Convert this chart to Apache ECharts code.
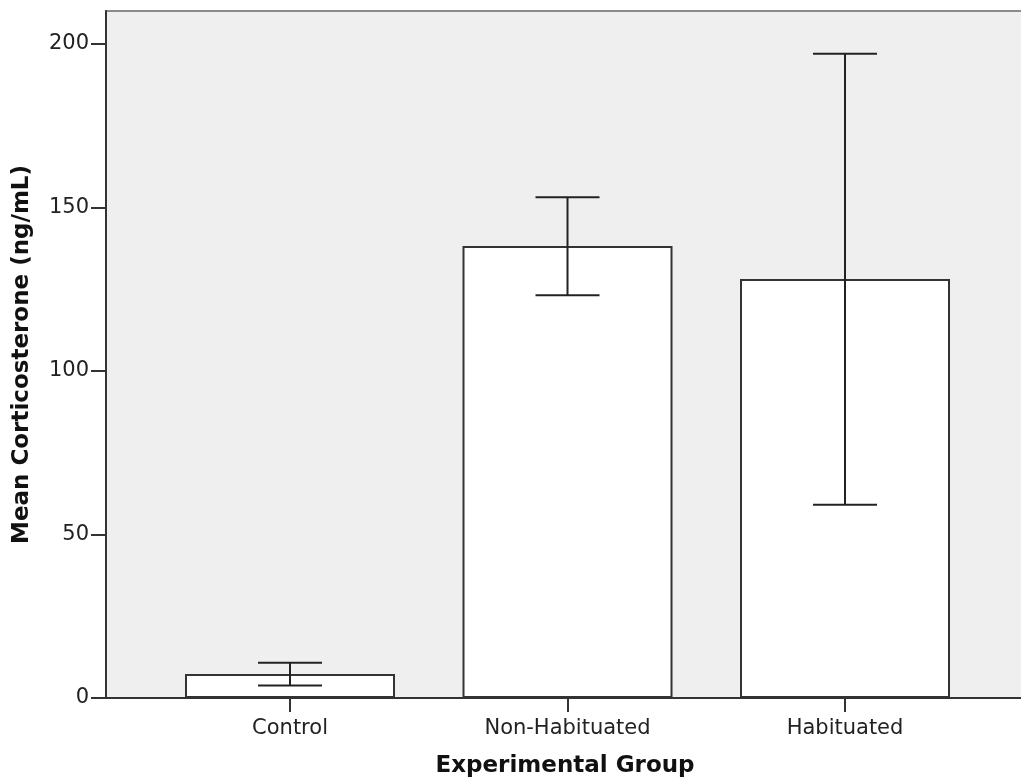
<!DOCTYPE html>
<html>
<head>
<meta charset="utf-8">
<script src="https://cdn.jsdelivr.net/npm/echarts@6/dist/echarts.min.js"></script>
<style>
html,body{margin:0;padding:0;background:#fff;}
#chart{width:1021px;height:783px;}
</style>
</head>
<body>
<div id="chart"></div>
<script>
var categories = ['Control', 'Non-Habituated', 'Habituated'];
var means = [7.3, 138.2, 128.1];
var upperCI = [10.8, 153.1, 196.9];
var lowerCI = [3.8, 123.1, 59.1];
var yTicks = [0, 50, 100, 150, 200];

var positions = categories.map(function (c, i) { return i + 1; });
var barData = positions.map(function (p, i) { return [p, means[i]]; });
var errData = positions.map(function (p, i) { return [p, lowerCI[i], upperCI[i]]; });

var chart = echarts.init(document.getElementById('chart'), null, {renderer: 'canvas'});
var fontFam = '"DejaVu Sans", sans-serif';
var axisColor = '#333';

chart.setOption({
  animation: false,
  backgroundColor: '#ffffff',
  grid: {
    left: 106, right: -3, top: 11, bottom: 85,
    outerBoundsMode: 'none',
    containLabel: false,
    show: true,
    backgroundColor: '#efefef',
    borderColor: '#8a8a8a',
    borderWidth: 2
  },
  xAxis: {
    type: 'value',
    min: 0.3369,
    max: 3.645,
    splitLine: {show: false},
    axisLine: {show: true, onZero: false, lineStyle: {color: axisColor, width: 2}},
    axisTick: {show: true, length: 14, customValues: positions, lineStyle: {color: axisColor, width: 2}},
    axisLabel: {
      customValues: positions,
      margin: 20,
      fontFamily: fontFam,
      fontSize: 21,
      color: '#222',
      formatter: function (v) { return categories[Math.round(v) - 1] || ''; }
    },
    name: 'Experimental Group',
    nameLocation: 'middle',
    nameGap: 57,
    nameTextStyle: {fontFamily: fontFam, fontSize: 23, fontWeight: 'bold', color: '#111'}
  },
  yAxis: {
    type: 'value',
    min: 0,
    max: 210,
    splitLine: {show: false},
    axisLine: {show: true, lineStyle: {color: axisColor, width: 2}},
    axisTick: {show: true, length: 15, customValues: yTicks, lineStyle: {color: axisColor, width: 2}},
    axisLabel: {
      customValues: yTicks,
      margin: 17,
      fontFamily: fontFam,
      fontSize: 21,
      color: '#222'
    },
    name: 'Mean Corticosterone (ng/mL)',
    nameLocation: 'middle',
    nameGap: 72,
    nameTextStyle: {fontFamily: fontFam, fontSize: 23, fontWeight: 'bold', color: '#111'}
  },
  series: [
    {
      type: 'bar',
      data: barData,
      barWidth: 210,
      itemStyle: {color: '#ffffff', borderColor: '#333', borderWidth: 2}
    },
    {
      type: 'custom',
      data: errData,
      z: 5,
      renderItem: function (params, api) {
        var x = api.value(0);
        var lo = api.coord([x, api.value(1)]);
        var hi = api.coord([x, api.value(2)]);
        var half = 32;
        var style = {stroke: '#222', lineWidth: 2};
        return {
          type: 'group',
          children: [
            {type: 'line', shape: {x1: lo[0], y1: lo[1], x2: hi[0], y2: hi[1]}, style: style},
            {type: 'line', shape: {x1: hi[0] - half, y1: hi[1], x2: hi[0] + half, y2: hi[1]}, style: style},
            {type: 'line', shape: {x1: lo[0] - half, y1: lo[1], x2: lo[0] + half, y2: lo[1]}, style: style}
          ]
        };
      }
    }
  ]
});
</script>
</body>
</html>
